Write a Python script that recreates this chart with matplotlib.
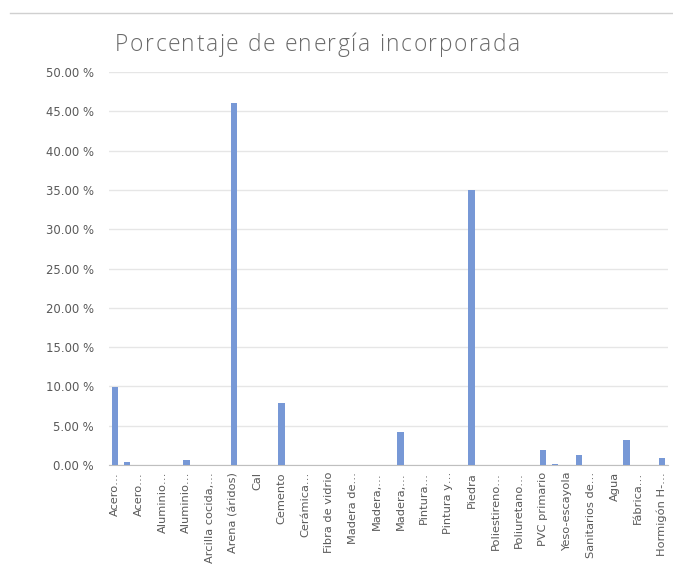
import matplotlib
matplotlib.use("Agg")
import matplotlib.pyplot as plt
from matplotlib.lines import Line2D
from matplotlib.ticker import FuncFormatter
import numpy as np

# labels shown on the axis (Excel only prints every second category)
tick_labels = ["Acero…", "Acero…", "Aluminio…", "Aluminio…", "Arcilla cocida,…",
               "Arena (áridos)", "Cal", "Cemento", "Cerámica…", "Fibra de vidrio",
               "Madera de…", "Madera,…", "Madera,…", "Pintura…", "Pintura y…",
               "Piedra", "Poliestireno…", "Poliuretano…", "PVC primario",
               "Yeso-escayola", "Sanitarios de…", "Agua", "Fábrica…", "Hormigón H-…"]

# percentage per category (47 categories, index = position on axis)
n_cat = 47
bar_index = [0, 1, 6, 10, 14, 24, 30, 36, 37, 39, 43, 46]
bar_value = [9.9, 0.38, 0.64, 46.1, 7.93, 4.16, 35.0, 1.87, 0.17, 1.27, 3.22, 0.93]

title = "Porcentaje de energía incorporada"

values = np.zeros(n_cat)
values[bar_index] = bar_value

txt = "#595959"
plt.rcParams['font.family'] = ['DejaVu Sans']

fig = plt.figure(figsize=(6.73, 5.65), dpi=100)
ax = fig.add_axes([109/673, 1-465/565, (668-109)/673, (465-72)/565])

ax.bar(np.arange(n_cat), values, width=0.55, color="#7798d6", zorder=3)

ax.set_xlim(-0.5, n_cat - 0.5)
ax.set_ylim(0, 50)
ax.set_yticks(np.arange(0, 51, 5))
ax.yaxis.set_major_formatter(FuncFormatter(lambda v, p: "%.2f %%" % v))
ax.grid(axis="y", color="#e6e6e6", linewidth=1, zorder=0)

ax.set_xticks(np.arange(0, n_cat, 2))
ax.set_xticklabels(tick_labels, rotation=90, fontsize=8.2, color=txt)
ax.tick_params(axis="x", length=0, pad=5)
ax.tick_params(axis="y", length=0, pad=11, labelsize=8.4, labelcolor=txt)

for s in ["top", "right", "left"]:
    ax.spines[s].set_visible(False)
ax.spines["bottom"].set_color("#bfbfbf")

# title with extra letter spacing (like the Excel chart title)
tkw = dict(fontsize=16.4, family=["Open Sans", "DejaVu Sans"], fontweight="light",
           color="#6a6a6a", va="baseline", ha="left")
renderer = fig.canvas.get_renderer()
x0, ybase, spacing = 115, 565 - 51, 1.6
probe = fig.text(0, 0, "", **tkw)
for i, ch in enumerate(title):
    probe.set_text(title[:i] + "|")
    w_pref = probe.get_window_extent(renderer).width
    probe.set_text("|")
    w_bar = probe.get_window_extent(renderer).width
    xpos = x0 + (w_pref - w_bar if i else 0) + i * spacing
    fig.text(xpos / 673, ybase / 565, ch, **tkw)
probe.remove()

# chart border line at the top
fig.add_artist(Line2D([10/673, 672/673], [1-13/565, 1-13/565],
                      transform=fig.transFigure, color="#d0d0d0", linewidth=1))

fig.savefig("out.png", dpi=100)
